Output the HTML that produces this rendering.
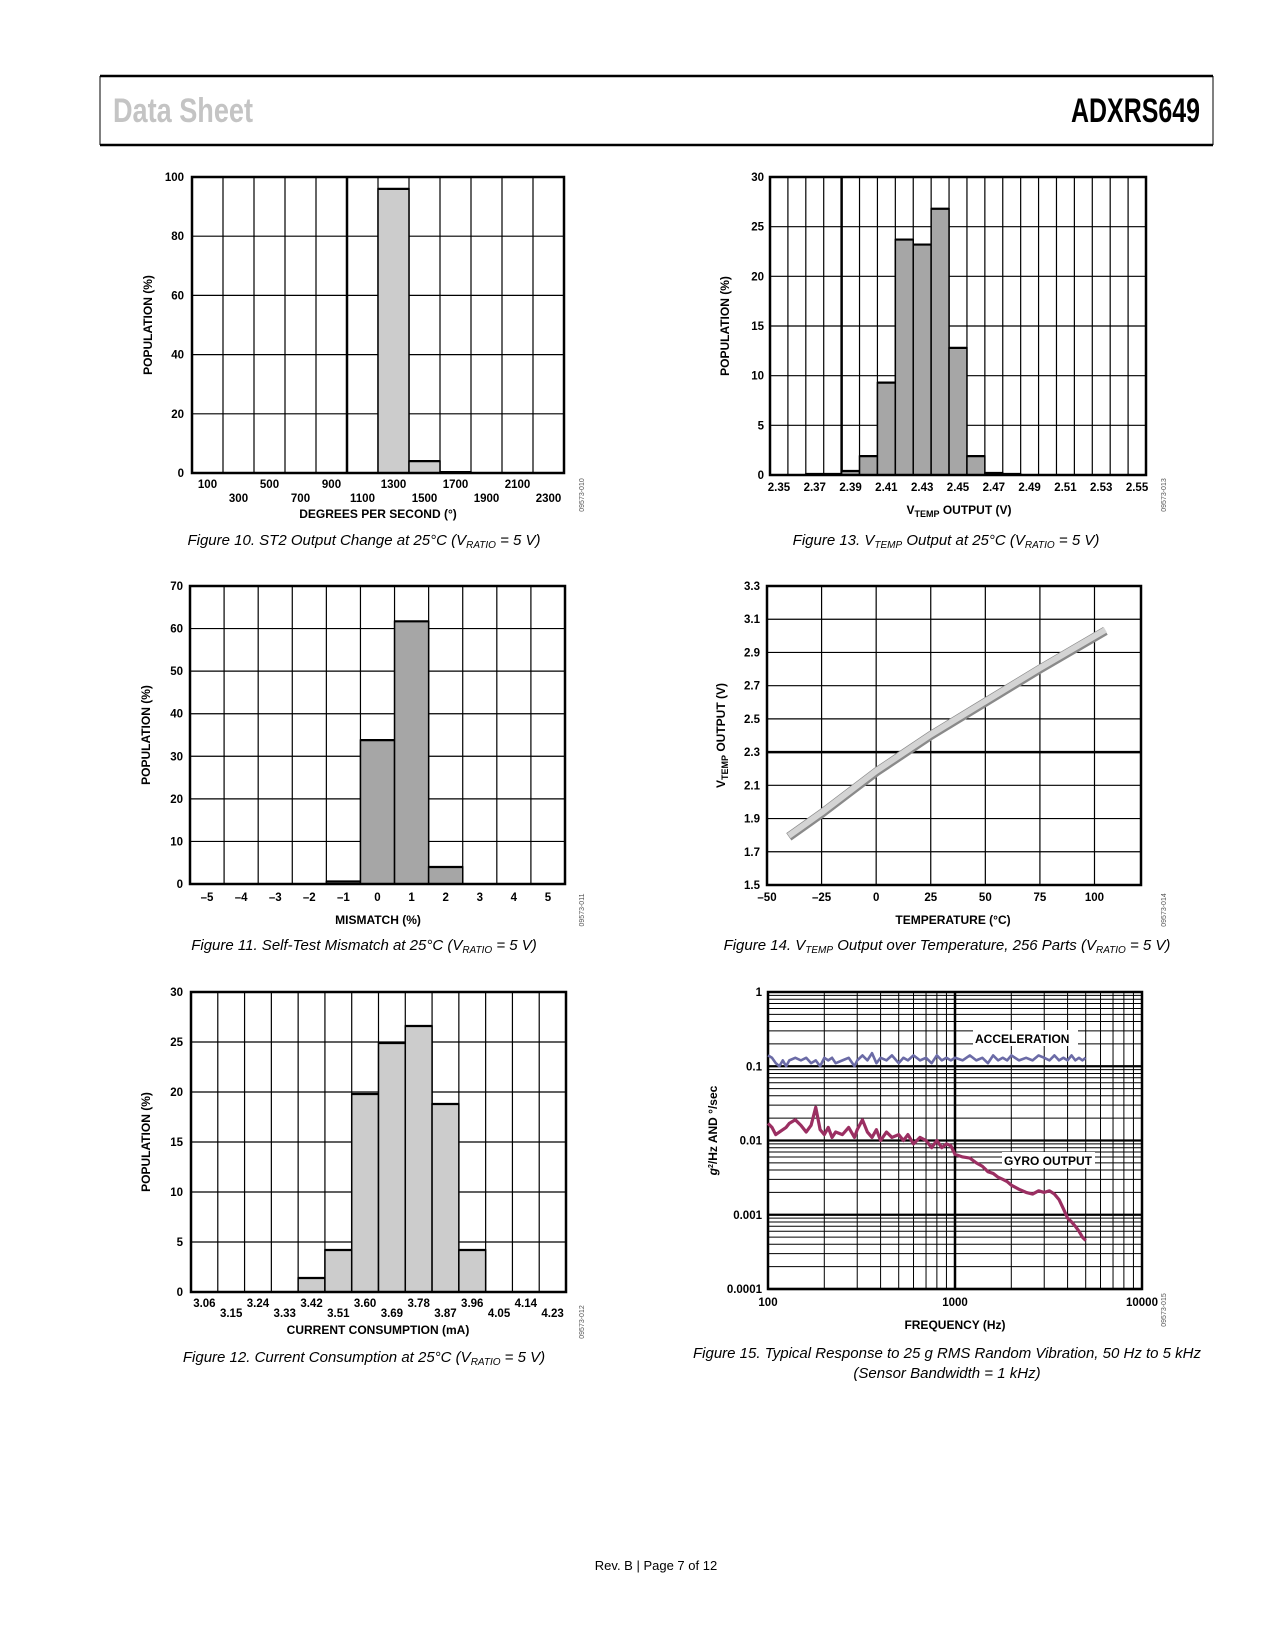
<!DOCTYPE html>
<html><head><meta charset="utf-8"><style>
html,body{margin:0;padding:0;background:#fff;}
svg{display:block;font-family:"Liberation Sans",sans-serif;}
.tk{font-size:11.5px;font-weight:bold;fill:#000;}
.ttl{font-size:12px;font-weight:bold;fill:#000;}
.cap{font-size:15px;font-style:italic;fill:#000;}
.id{font-size:7px;fill:#555;}
</style></head><body>
<svg id="page" width="1275" height="1650" viewBox="0 0 1275 1650" xmlns="http://www.w3.org/2000/svg">
  <g>
    <line x1="100" y1="76" x2="1213" y2="76" stroke="#000" stroke-width="2.5"/>
    <line x1="100" y1="145" x2="1213" y2="145" stroke="#000" stroke-width="2.5"/>
    <line x1="100" y1="76" x2="100" y2="145" stroke="#000" stroke-width="1"/>
    <line x1="1213" y1="76" x2="1213" y2="145" stroke="#000" stroke-width="1"/>
    <text x="113" y="122" textLength="140" lengthAdjust="spacingAndGlyphs" style="font-family:'Liberation Sans Narrow','Liberation Sans',sans-serif;font-size:34px;font-weight:bold;fill:#c4c4c4">Data Sheet</text>
    <text x="1071" y="122" textLength="129" lengthAdjust="spacingAndGlyphs" style="font-family:'Liberation Sans Narrow','Liberation Sans',sans-serif;font-size:34px;font-weight:bold;fill:#000">ADXRS649</text>
  </g>
  <g id="fig10"></g>
  <g id="fig13"></g>
  <g id="fig11"></g>
  <g id="fig14"></g>
  <g id="fig12"></g>
  <g id="fig15"></g>

  <text class="cap" x="364" y="545" text-anchor="middle">Figure 10. ST2 Output Change at 25°C (V<tspan font-size="10" dy="3">RATIO</tspan><tspan dy="-3"> = 5 V)</tspan></text>
  <text class="cap" x="946" y="545" text-anchor="middle">Figure 13. V<tspan font-size="10" dy="3">TEMP</tspan><tspan dy="-3"> Output at 25°C (V</tspan><tspan font-size="10" dy="3">RATIO</tspan><tspan dy="-3"> = 5 V)</tspan></text>
  <text class="cap" x="364" y="950" text-anchor="middle">Figure 11. Self-Test Mismatch at 25°C (V<tspan font-size="10" dy="3">RATIO</tspan><tspan dy="-3"> = 5 V)</tspan></text>
  <text class="cap" x="947" y="950" text-anchor="middle">Figure 14. V<tspan font-size="10" dy="3">TEMP</tspan><tspan dy="-3"> Output over Temperature, 256 Parts (V</tspan><tspan font-size="10" dy="3">RATIO</tspan><tspan dy="-3"> = 5 V)</tspan></text>
  <text class="cap" x="364" y="1362" text-anchor="middle">Figure 12. Current Consumption at 25°C (V<tspan font-size="10" dy="3">RATIO</tspan><tspan dy="-3"> = 5 V)</tspan></text>
  <text class="cap" x="947" y="1358" text-anchor="middle">Figure 15. Typical Response to 25 g RMS Random Vibration, 50 Hz to 5 kHz</text>
  <text class="cap" x="947" y="1378" text-anchor="middle">(Sensor Bandwidth = 1 kHz)</text>
  <text x="656" y="1570" text-anchor="middle" style="font-size:13px;fill:#000">Rev. B | Page 7 of 12</text>
</svg>
<script>
// ---- Figure 10 data ----
const f10Cats = ["100","300","500","700","900","1100","1300","1500","1700","1900","2100","2300"];
const f10Vals = [0,0,0,0,0,0,96,4,0.3,0,0,0];
const f10YTicks = [0,20,40,60,80,100];
// ---- Figure 13 data ----
const f13Cats = ["2.35","2.36","2.37","2.38","2.39","2.40","2.41","2.42","2.43","2.44","2.45","2.46","2.47","2.48","2.49","2.50","2.51","2.52","2.53","2.54","2.55"];
const f13Vals = [0,0,0.1,0.1,0.4,1.9,9.3,23.7,23.2,26.8,12.8,1.9,0.2,0.1,0,0,0,0,0,0,0];
const f13YTicks = [0,5,10,15,20,25,30];
// ---- Figure 11 data ----
const f11Cats = ["–5","–4","–3","–2","–1","0","1","2","3","4","5"];
const f11Vals = [0,0,0,0,0.6,33.8,61.7,4,0,0,0];
const f11YTicks = [0,10,20,30,40,50,60,70];
// ---- Figure 12 data ----
const f12Cats = ["3.06","3.15","3.24","3.33","3.42","3.51","3.60","3.69","3.78","3.87","3.96","4.05","4.14","4.23"];
const f12Vals = [0,0,0,0,1.4,4.2,19.8,24.9,26.6,18.8,4.2,0,0,0];
const f12YTicks = [0,5,10,15,20,25,30];
// ---- Figure 14 data ----
const f14Temp = [-40,-25,0,25,50,75,105];
const f14Volt = [1.79,1.93,2.18,2.40,2.60,2.80,3.03];
const f14XTicks = [-50,-25,0,25,50,75,100];
const f14YTicks = [1.5,1.7,1.9,2.1,2.3,2.5,2.7,2.9,3.1,3.3];
// ---- Figure 15 data ----
const f15Freq = [100,105,110,115,120,125,130,140,150,160,170,180,190,200,210,220,230,250,270,290,300,320,340,360,380,400,430,460,500,530,560,600,650,700,750,800,850,900,950,1000,1100,1200,1300,1400,1500,1600,1700,1800,1900,2000,2200,2400,2600,2800,3000,3200,3400,3600,3800,4000,4200,4400,4600,4800,5000];
const f15Gyro = [0.017,0.015,0.012,0.013,0.014,0.015,0.017,0.019,0.016,0.013,0.016,0.028,0.014,0.012,0.015,0.011,0.013,0.012,0.015,0.011,0.014,0.019,0.013,0.011,0.014,0.010,0.013,0.011,0.012,0.010,0.012,0.009,0.011,0.010,0.008,0.010,0.008,0.009,0.0085,0.0065,0.006,0.0058,0.005,0.0045,0.0038,0.0036,0.0032,0.003,0.0028,0.0025,0.0022,0.002,0.0019,0.0021,0.002,0.0021,0.0019,0.0016,0.0012,0.0009,0.0008,0.0007,0.0006,0.0005,0.00045];
const f15Accel = [0.14,0.13,0.11,0.10,0.12,0.10,0.12,0.13,0.12,0.13,0.11,0.12,0.10,0.13,0.12,0.13,0.11,0.12,0.13,0.10,0.12,0.14,0.12,0.15,0.11,0.13,0.12,0.14,0.11,0.13,0.12,0.14,0.12,0.13,0.11,0.14,0.12,0.13,0.12,0.13,0.12,0.14,0.12,0.13,0.11,0.14,0.12,0.13,0.12,0.14,0.12,0.13,0.12,0.14,0.13,0.12,0.14,0.12,0.13,0.12,0.14,0.12,0.13,0.12,0.13];
const f15YTicks = [1,0.1,0.01,0.001,0.0001];
const f15YLabels = ["1","0.1","0.01","0.001","0.0001"];
const f15XTicks = [100,1000,10000];

const NS="http://www.w3.org/2000/svg";
function mk(parent,tag,attrs,text){const e=document.createElementNS(NS,tag);for(const k in attrs)e.setAttribute(k,attrs[k]);if(text!==undefined)e.textContent=text;parent.appendChild(e);return e;}

function hist(gid,o,cats,vals,yticks){
  const g=document.getElementById(gid);
  const n=cats.length, cw=(o.x1-o.x0)/n, ymax=yticks[yticks.length-1];
  const gap=o.rowGap||0;
  const ys=v=>o.y1-(v/ymax)*(o.y1-o.y0);
  yticks.forEach(t=>{
    const y=ys(t);
    const ln=mk(g,'line',{x1:o.x0,x2:o.x1,y1:y,y2:y,stroke:'#000','stroke-width':1.2});
    
    
    const tx=mk(g,'text',{x:o.ylx,y:y+4,'text-anchor':'end',class:'tk'},String(t));
    
    
  });
  for(let i=1;i<n;i++){
    const x=o.x0+i*cw;
    const ln=mk(g,'line',{x1:x,x2:x,y1:o.y0,y2:o.y1,stroke:'#000','stroke-width':(o.thick===i?2.5:1.2)});
    
    
  }
  vals.forEach((v,i)=>{
    if(v<=0)return;
    const x=o.x0+i*cw, y=ys(v);
    const r=mk(g,'rect',{x:x,y:y,width:cw,height:o.y1-y,fill:o.fill,stroke:'#000','stroke-width':1.5});
    
    
    mk(g,'line',{x1:x,x2:x+cw,y1:y,y2:y,stroke:'#000','stroke-width':2.2});
  });
  mk(g,'rect',{x:o.x0,y:o.y0,width:o.x1-o.x0,height:o.y1-o.y0,fill:'none',stroke:'#000','stroke-width':2.5});
  cats.forEach((c,i)=>{
    if(o.every && i%o.every)return;
    const row=o.rows===2?(i%2):0;
    const tx=mk(g,'text',{x:o.x0+(i+0.5)*cw,y:o.lb+row*gap,'text-anchor':'middle',class:'tk'},c);
    
    
  });
  const yt=mk(g,'text',{x:0,y:0,transform:`translate(${o.ytx},${(o.y0+o.y1)/2}) rotate(-90)`,'text-anchor':'middle',class:'ttl'},'POPULATION (%)');
  
  
  return g;
}
function xtitle(g,x,y,txt){const t=mk(g,'text',{x:x,y:y,'text-anchor':'middle',class:'ttl'},txt);return t;}
function fid(g,x,y,txt){const t=mk(g,'text',{x:0,y:0,transform:`translate(${x},${y}) rotate(-90)`,'text-anchor':'middle',class:'id'},txt);}

// Fig 10
let g=hist('fig10',{x0:192,x1:564,y0:177,y1:473,fill:'#cccccc',thick:5,ylx:184,rows:2,lb:488,rowGap:14,ytx:152},f10Cats,f10Vals,f10YTicks);
xtitle(g,378,518,'DEGREES PER SECOND (°)');
fid(g,584,495,'09573-010');
// Fig 13
g=hist('fig13',{x0:770,x1:1146,y0:177,y1:475,fill:'#a6a6a6',thick:4,ylx:764,every:2,lb:491,ytx:729},f13Cats,f13Vals,f13YTicks);
{const t=mk(g,'text',{x:959,y:514,'text-anchor':'middle',class:'ttl'});
 t.innerHTML='V<tspan font-size="9" dy="3">TEMP</tspan><tspan dy="-3"> OUTPUT (V)</tspan>';}
fid(g,1166,495,'09573-013');
// Fig 11
g=hist('fig11',{x0:190,x1:565,y0:586,y1:884,fill:'#a6a6a6',ylx:183,lb:901,ytx:150},f11Cats,f11Vals,f11YTicks);
xtitle(g,378,924,'MISMATCH (%)');
fid(g,584,910,'09573-011');
// Fig 12
g=hist('fig12',{x0:191,x1:566,y0:992,y1:1292,fill:'#cccccc',ylx:183,rows:2,lb:1307,rowGap:10,ytx:150},f12Cats,f12Vals,f12YTicks);
xtitle(g,378,1334,'CURRENT CONSUMPTION (mA)');
fid(g,584,1322,'09573-012');

// Fig 14
(function(){
  const g=document.getElementById('fig14');
  const x0=767,x1=1141,y0=586,y1=885,xmin=-50,xmax=121.3,ymin=1.5,ymax=3.3;
  const xs=v=>x0+(v-xmin)/(xmax-xmin)*(x1-x0), ys=v=>y1-(v-ymin)/(ymax-ymin)*(y1-y0);
  f14YTicks.forEach(t=>{const y=ys(t);
    const l=mk(g,'line',{x1:x0,x2:x1,y1:y,y2:y,stroke:'#000','stroke-width':(Math.abs(t-2.3)<1e-6?2.5:1.2)});
    
    const tx=mk(g,'text',{x:760,y:y+4,'text-anchor':'end',class:'tk'},t.toFixed(1));
    });
  f14XTicks.forEach(t=>{const x=xs(t);
    const l=mk(g,'line',{x1:x,x2:x,y1:y0,y2:y1,stroke:'#000','stroke-width':1.2});
    
    const tx=mk(g,'text',{x:x,y:901,'text-anchor':'middle',class:'tk'},t<0?'–'+Math.abs(t):String(t));
    });
  mk(g,'rect',{x:x0,y:y0,width:x1-x0,height:y1-y0,fill:'none',stroke:'#000','stroke-width':2.5});
  const pts=f14Temp.map((t,i)=>xs(t)+','+ys(f14Volt[i])).join(' ');
  const b=mk(g,'polyline',{points:pts,fill:'none',stroke:'#8a8a8a','stroke-width':9,'stroke-linejoin':'round'});
  
  const l=mk(g,'polyline',{points:pts,fill:'none',stroke:'#d4d4d4','stroke-width':6,transform:'translate(0,-1)','stroke-linejoin':'round'});
  
  xtitle(g,953,924,'TEMPERATURE (°C)');
  const yt=mk(g,'text',{x:0,y:0,transform:`translate(725,${(y0+y1)/2}) rotate(-90)`,'text-anchor':'middle',class:'ttl'});
  yt.innerHTML='V<tspan font-size="9" dy="3">TEMP</tspan><tspan dy="-3"> OUTPUT (V)</tspan>';
  
  fid(g,1166,910,'09573-014');
})();

// Fig 15
(function(){
  const g=document.getElementById('fig15');
  const x0=768,x1=1142,y0=992,y1=1289;
  const xs=f=>x0+(Math.log10(f)-2)/2*(x1-x0), ys=v=>y0+(-Math.log10(v))/4*(y1-y0);
  for(let d=-4;d<0;d++){for(let m=1;m<10;m++){const v=m*Math.pow(10,d);const y=ys(v);
    const l=mk(g,'line',{x1:x0,x2:x1,y1:y,y2:y,stroke:'#000','stroke-width':(m===1?2.2:1)});
    }}
  for(let d=2;d<4;d++){for(let m=1;m<10;m++){const f=m*Math.pow(10,d);const x=xs(f);
    const l=mk(g,'line',{x1:x,x2:x,y1:y0,y2:y1,stroke:'#000','stroke-width':(m===1&&d===3?2.5:1)});
    }}
  mk(g,'rect',{x:x0,y:y0,width:x1-x0,height:y1-y0,fill:'none',stroke:'#000','stroke-width':2.5});
  f15YTicks.forEach((t,i)=>{const tx=mk(g,'text',{x:762,y:ys(t)+4,'text-anchor':'end',class:'tk'},f15YLabels[i]);
    });
  f15XTicks.forEach(t=>{const tx=mk(g,'text',{x:xs(t),y:1306,'text-anchor':'middle',class:'tk'},String(t));
    });
  const a=mk(g,'polyline',{points:f15Freq.map((f,i)=>xs(f)+','+ys(f15Accel[i])).join(' '),fill:'none',stroke:'#6b6ba6','stroke-width':2.6,'stroke-linejoin':'round'});
  
  const gy=mk(g,'polyline',{points:f15Freq.map((f,i)=>xs(f)+','+ys(f15Gyro[i])).join(' '),fill:'none',stroke:'#9b2f62','stroke-width':3.2,'stroke-linejoin':'round'});
  
  mk(g,'rect',{x:973,y:1030,width:105,height:16,fill:'#fff'});
  const l1=mk(g,'text',{x:975,y:1043,class:'ttl'},'ACCELERATION');
  
  mk(g,'rect',{x:1002,y:1152,width:93,height:16,fill:'#fff'});
  const l2=mk(g,'text',{x:1004,y:1165,class:'ttl'},'GYRO OUTPUT');
  
  xtitle(g,955,1329,'FREQUENCY (Hz)');
  const yt=mk(g,'text',{x:0,y:0,transform:`translate(717,${(y0+y1)/2-10}) rotate(-90)`,'text-anchor':'middle',class:'ttl'});
  yt.innerHTML='<tspan font-style="italic">g</tspan><tspan font-size="7" dy="-4">2</tspan><tspan dy="4">/Hz AND °/sec</tspan>';
  
  fid(g,1166,1310,'09573-015');
})();
</script>
</body></html>
